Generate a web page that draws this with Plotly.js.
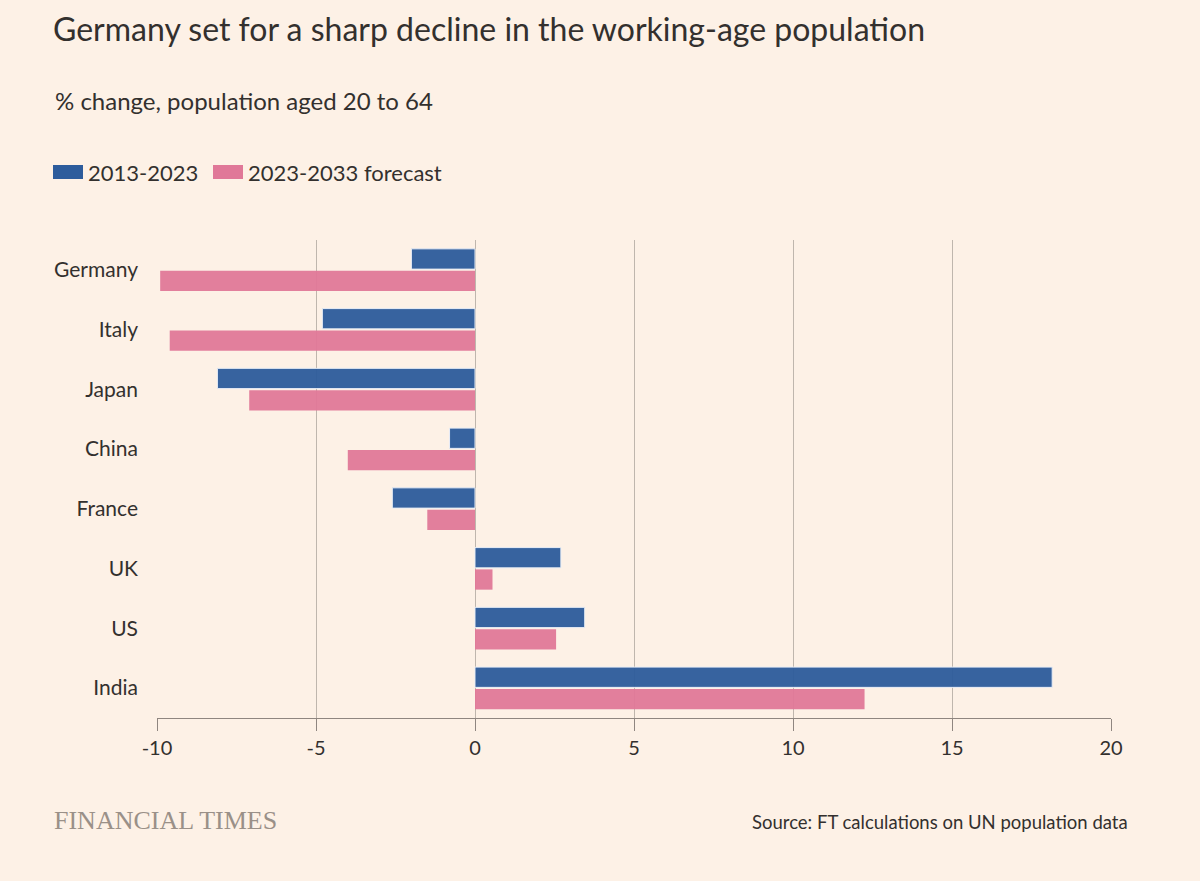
<!DOCTYPE html>
<html>
<head>
<meta charset="utf-8">
<script src="https://cdn.plot.ly/plotly-3.0.1.min.js"></script>
<style>html,body{margin:0;padding:0;background:#fdf1e6;}#chart{width:1200px;height:881px;}</style>
</head>
<body>
<div id="chart"></div>
<script>
const countries = ["Germany", "Italy", "Japan", "China", "France", "UK", "US", "India"];
const change2013_2023 = [-2.0, -4.8, -8.1, -0.8, -2.6, 2.7, 3.45, 18.15];
const forecast2023_2033 = [-9.9, -9.6, -7.1, -4.0, -1.5, 0.55, 2.55, 12.25];
const seriesNames = ["2013-2023", "2023-2033 forecast"];
const xTicks = [-10, -5, 0, 5, 10, 15, 20];

const BLUE = "#2d5c9c";
const PINK = "#e07898";
const TEXT = "#33302e";
const FONT = "Lato, 'Open Sans', sans-serif";

const traces = [
  {type: "bar", orientation: "h", name: seriesNames[0], y: countries, x: change2013_2023,
   marker: {color: BLUE, opacity: 0.95, line: {color: "#e8eef8", width: 1}}, showlegend: false, hoverinfo: "x+y"},
  {type: "bar", orientation: "h", name: seriesNames[1], y: countries, x: forecast2023_2033,
   marker: {color: PINK, opacity: 0.95, line: {width: 0}}, showlegend: false, hoverinfo: "x+y"}
];

function px(x){ return (x - 157) / 954; }
function py(y){ return (718 - y) / 478; }

const layout = {
  width: 1200, height: 881,
  paper_bgcolor: "#fdf1e6", plot_bgcolor: "#fdf1e6",
  margin: {l: 157, r: 89, t: 240, b: 163},
  font: {family: FONT, color: TEXT, size: 19},
  barmode: "group", bargap: 0.27, bargroupgap: 0.07,
  xaxis: {range: [-10, 20], tickvals: xTicks, ticktext: xTicks.map(String), showgrid: true, gridcolor: "#bfb6ad", gridwidth: 1,
          zeroline: false, showline: true, linecolor: "#8f8680", linewidth: 1, ticks: "outside", ticklen: 12, tickcolor: "#8f8680",
          tickfont: {size: 20, color: TEXT, family: FONT}, fixedrange: true},
  yaxis: {autorange: "reversed", showgrid: false, zeroline: false, showline: false, ticks: "", ticklabelstandoff: 18,
          tickfont: {size: 21, color: TEXT, family: FONT}, fixedrange: true},
  title: {text: "Germany set for a sharp decline in the working-age population", x: 53/1200, xanchor: "left", xref: "container",
          y: 1 - 30/881, yanchor: "middle", yref: "container", font: {size: 32, color: TEXT, family: FONT}},
  shapes: [
    {type: "rect", xref: "paper", yref: "paper", x0: px(53), x1: px(83), y0: py(179), y1: py(165), line: {width: 0}, fillcolor: BLUE},
    {type: "rect", xref: "paper", yref: "paper", x0: px(213), x1: px(243), y0: py(179), y1: py(165), line: {width: 0}, fillcolor: PINK}
  ],
  annotations: [
    {text: "% change, population aged 20 to 64", xref: "paper", yref: "paper", x: px(53), y: py(100), xanchor: "left", yanchor: "middle",
     showarrow: false, font: {size: 24, color: TEXT, family: FONT}},
    {text: seriesNames[0], xref: "paper", yref: "paper", x: px(86), y: py(172), xanchor: "left", yanchor: "middle",
     showarrow: false, font: {size: 22, color: TEXT, family: FONT}},
    {text: seriesNames[1], xref: "paper", yref: "paper", x: px(246), y: py(172), xanchor: "left", yanchor: "middle",
     showarrow: false, font: {size: 22, color: TEXT, family: FONT}},
    {text: "FINANCIAL TIMES", xref: "paper", yref: "paper", x: px(52), y: py(820), xanchor: "left", yanchor: "middle",
     showarrow: false, font: {size: 26, color: "#9a9088", family: "'Liberation Serif', 'DejaVu Serif', serif"}},
    {text: "Source: FT calculations on UN population data", xref: "paper", yref: "paper", x: px(1130), y: py(822), xanchor: "right", yanchor: "middle",
     showarrow: false, font: {size: 18.5, color: TEXT, family: FONT}}
  ]
};

Plotly.newPlot("chart", traces, layout, {displayModeBar: false});
</script>
</body>
</html>
